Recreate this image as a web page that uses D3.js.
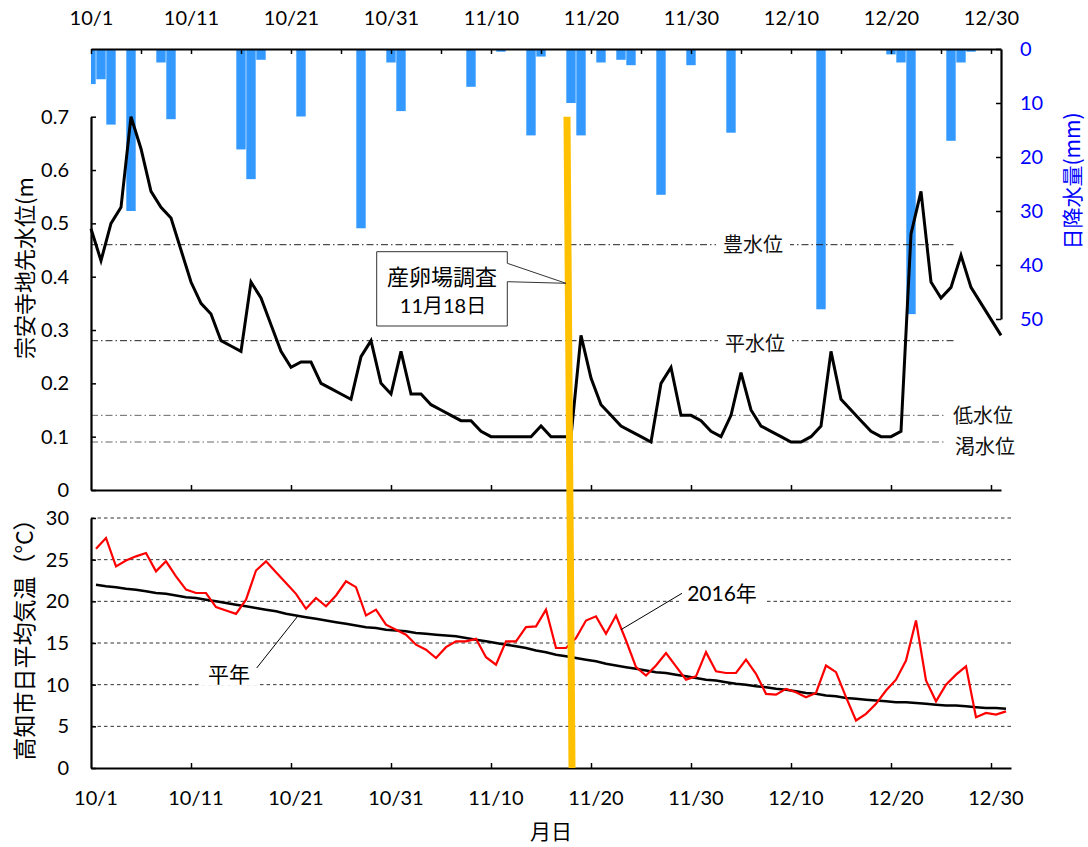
<!DOCTYPE html>
<html><head><meta charset="utf-8">
<script src="https://cdn.jsdelivr.net/npm/d3@7"></script>
<style>body{margin:0;background:#fff}svg{display:block}</style>
</head><body>
<svg id="c" width="1088" height="847"></svg>
<script>
// ---------------- data ----------------
const dayLabels = ["10/1","10/11","10/21","10/31","11/10","11/20","11/30","12/10","12/20","12/30"];

// 宗安寺地先水位 (m), daily 10/1 - 12/31
const waterLevel = [0.49,0.43,0.50,0.53,0.70,0.64,0.56,0.53,0.51,0.45,
0.39,0.35,0.33,0.28,0.27,0.26,0.39,0.36,0.31,0.26,
0.23,0.24,0.24,0.20,0.19,0.18,0.17,0.25,0.28,0.20,
0.18,0.26,0.18,0.18,0.16,0.15,0.14,0.13,0.13,0.11,
0.10,0.10,0.10,0.10,0.10,0.12,0.10,0.10,0.10,0.29,
0.21,0.16,0.14,0.12,0.11,0.10,0.09,0.20,0.23,0.14,
0.14,0.13,0.11,0.10,0.14,0.22,0.15,0.12,0.11,0.10,
0.09,0.09,0.10,0.12,0.26,0.17,0.15,0.13,0.11,0.10,
0.10,0.11,0.48,0.56,0.39,0.36,0.38,0.44,0.38,0.35,
0.32,0.29];

// 日降水量 (mm), daily 10/1 - 12/31
const rainfall = [6.5,5.6,14.0,0,30.0,0,0,2.5,13.0,0,
0,0,0,0,0,18.6,24.1,2.0,0,0,
0,12.5,0,0,0,0,0,33.2,0,0,
2.5,11.5,0,0,0,0,0,0,7.0,0,
0,0.5,0,0,16.0,1.4,0,0,10.0,16.0,
0,2.5,0,2.0,3.0,0,0,27.0,0,0,
3.0,0,0,0,15.5,0,0,0,0,0,
0,0,0,48.2,0,0,0,0,0,0,
1.0,2.5,49.1,0,0,0,17.0,2.5,0.5,0,
0,0];

// 高知市日平均気温 (°C) 2016年
const temp2016 = [26.3,27.6,24.2,24.9,25.4,25.8,23.6,24.8,23.0,21.4,
21.0,21.0,19.3,18.9,18.5,20.2,23.7,24.8,23.5,22.2,
20.9,19.1,20.4,19.4,20.7,22.4,21.7,18.3,19.0,17.2,
16.6,16.0,14.8,14.2,13.2,14.5,15.2,15.2,15.5,13.3,
12.4,15.2,15.2,16.9,17.0,19.0,14.4,14.4,15.6,17.7,
18.2,16.1,18.3,15.3,12.1,11.1,12.3,13.8,12.2,10.6,
11.0,13.9,11.6,11.4,11.4,13.0,11.3,8.9,8.8,9.5,
9.1,8.5,9.0,12.3,11.5,8.5,5.7,6.5,7.7,9.3,
10.6,12.9,17.7,10.5,8.0,10.0,11.2,12.2,6.1,6.6,
6.4,6.8];

// 平年
const tempNormal = [22.0,21.8,21.7,21.5,21.4,21.2,21.0,20.9,20.7,20.5,
20.4,20.2,20.0,19.8,19.6,19.4,19.2,19.0,18.8,18.5,
18.3,18.1,17.9,17.7,17.5,17.3,17.1,16.9,16.8,16.6,
16.5,16.4,16.2,16.1,16.0,15.9,15.8,15.6,15.4,15.2,
15.0,14.8,14.6,14.4,14.1,13.9,13.6,13.4,13.2,13.0,
12.8,12.5,12.3,12.1,11.9,11.7,11.5,11.4,11.2,11.0,
10.8,10.6,10.5,10.3,10.1,10.0,9.8,9.7,9.5,9.4,
9.2,9.0,8.9,8.7,8.6,8.4,8.3,8.2,8.1,8.0,
7.9,7.9,7.8,7.7,7.6,7.5,7.5,7.4,7.3,7.2,
7.2,7.1];

const refNames = ["豊水位","平水位","低水位","渇水位"];
const refValues = [0.46, 0.28, 0.14, 0.09];
const waterTicks = [0,0.1,0.2,0.3,0.4,0.5,0.6,0.7];
const rainTicks = [0,10,20,30,40,50];
const tempTicks = [0,5,10,15,20,25,30];
const surveyDay = 48; // 11月18日

// ---------------- layout ----------------
const NUM = "Lato, 'Noto Sans CJK JP', sans-serif";
const JP = "'Noto Sans CJK JP', sans-serif";
const svg = d3.select("#c");
svg.append("rect").attr("width",1088).attr("height",847).attr("fill","#fff");

const nDays = waterLevel.length; // 92
const xTop = d3.scaleLinear().domain([0, nDays-1]).range([91, 1001]);
const yWater = d3.scaleLinear().domain([0, 0.7]).range([490, 116.7]);
const yRain = d3.scaleLinear().domain([0, 50]).range([49, 319]);
const xBot = d3.scaleLinear().domain([0, nDays]).range([91, 1011]);
const yTemp = d3.scaleLinear().domain([0, 30]).range([768, 518]);

svg.append("clipPath").attr("id","topclip").append("rect")
  .attr("x",91).attr("y",40).attr("width",910).attr("height",460);

// ---- rainfall bars ----
svg.append("g").attr("clip-path","url(#topclip)")
  .selectAll("rect").data(rainfall.map((v,i)=>({v,i})).filter(d=>d.v>0))
  .join("rect")
  .attr("x", d=>xTop(d.i-0.5)+0.3)
  .attr("width", d=>xTop(d.i+0.5)-xTop(d.i-0.5)-0.6)
  .attr("y", yRain(0))
  .attr("height", d=>yRain(d.v)-yRain(0))
  .attr("fill","#3399ff");

// ---- reference level lines ----
const refG = svg.append("g");
const refLabelPos = [66.2, 66.4, 89.2, 89.4];
const refLineEnd = [86.3, 86.3, 85.4, 85.4];
refValues.forEach((v,k)=>{
  refG.append("line")
    .attr("x1", xTop(0)).attr("x2", xTop(refLineEnd[k]))
    .attr("y1", yWater(v)).attr("y2", yWater(v))
    .attr("stroke", k<2 ? "#222" : "#666").attr("stroke-width",1)
    .attr("stroke-dasharray","7,3,1.5,3");
});
refValues.forEach((v,k)=>{
  const yy = k===0 ? yWater(v)-1 : (k===1 ? yWater(v)+1.5 : (k===2 ? yWater(v)-0.5 : yWater(v)+3.5));
  const t = refG.append("text")
    .attr("x", xTop(refLabelPos[k])).attr("y", yy)
    .attr("text-anchor","middle").attr("dominant-baseline","central")
    .attr("font-family",JP).attr("font-size",20).attr("fill","#111")
    .text(refNames[k]);
  if (k<2) {
    const b = t.node().getBBox();
    refG.insert("rect","text").attr("x",b.x-7).attr("y",b.y+2).attr("width",b.width+14).attr("height",b.height-4).attr("fill","#fff");
  }
});

// ---- water level line ----
svg.append("path").datum(waterLevel)
  .attr("fill","none").attr("stroke","#000").attr("stroke-width",3).attr("stroke-linejoin","miter")
  .attr("d", d3.line().x((d,i)=>xTop(i)).y(d=>yWater(d)));

// ---- top panel axes ----
svg.append("g").attr("transform",`translate(0,${yRain(0)})`)
  .call(d3.axisTop(xTop).tickValues(d3.range(0, nDays-1, 5)).tickSizeInner(-5).tickSizeOuter(0).tickPadding(24)
    .tickFormat(d => d%10===0 ? dayLabels[d/10] : ""));
svg.append("g").attr("transform",`translate(0,${yWater(0)})`)
  .call(d3.axisBottom(xTop).tickValues(d3.range(10, nDays-1, 10)).tickSizeInner(-5).tickSizeOuter(0).tickFormat(""));
svg.append("g").attr("transform",`translate(${xTop(0)},0)`)
  .call(d3.axisLeft(yWater).tickValues(waterTicks).tickSizeInner(-5).tickSizeOuter(0).tickPadding(22)
    .tickFormat(d => d===0 ? "0" : d.toFixed(1)));
const rightAx = svg.append("g").attr("transform",`translate(${xTop(nDays-1)},0)`)
  .call(d3.axisRight(yRain).tickValues(rainTicks).tickSizeInner(-5).tickSizeOuter(0).tickPadding(19));

// ---- bottom panel grid ----
const grid = svg.append("g");
tempTicks.filter(t=>t>0).forEach(t=>{
  grid.append("line").attr("x1",xBot(0)).attr("x2",xBot(nDays))
    .attr("y1",yTemp(t)).attr("y2",yTemp(t))
    .attr("stroke","#333").attr("stroke-width",1).attr("stroke-dasharray","3.5,3");
});

// ---- temperature lines ----
svg.append("path").datum(tempNormal)
  .attr("fill","none").attr("stroke","#000").attr("stroke-width",2.5)
  .attr("d", d3.line().x((d,i)=>xBot(i+0.5)).y(d=>yTemp(d)));
svg.append("path").datum(temp2016)
  .attr("fill","none").attr("stroke","#ff0000").attr("stroke-width",2.2)
  .attr("d", d3.line().x((d,i)=>xBot(i+0.5)).y(d=>yTemp(d)));

// ---- bottom panel axes ----
svg.append("g").attr("transform",`translate(0,${yTemp(0)})`)
  .call(d3.axisBottom(xBot).tickValues(d3.range(10, nDays, 10)).tickSizeInner(-5).tickSizeOuter(0).tickFormat(""));
svg.append("g").attr("transform",`translate(${xBot(0)},0)`)
  .call(d3.axisLeft(yTemp).tickValues(tempTicks).tickSizeInner(-5).tickSizeOuter(0).tickPadding(22));
svg.append("g").selectAll("text").data(dayLabels).join("text")
  .attr("x",(d,k)=>xBot(k*10+0.5)).attr("y",805)
  .attr("text-anchor","middle").attr("font-family",NUM).attr("font-size",20).attr("fill","#000")
  .text(d=>d);

// style all axes
svg.selectAll(".domain").attr("stroke","#000").attr("stroke-width",2.2);
svg.selectAll(".tick line").attr("stroke","#000").attr("stroke-width",1.5);
svg.selectAll(".tick text").attr("font-family",NUM).attr("font-size",20).attr("fill","#000");
rightAx.selectAll(".tick text").attr("fill","#0000ff");

// ---- series labels with leaders ----
function sample(arr, i){ const a=Math.floor(i), f=i-a; return arr[a]*(1-f)+arr[a+1]*f; }
function seriesLabel(txt, tx, ty, lx1, ly1, lx2, ly2) {
  const g = svg.append("g");
  const t = g.append("text").attr("x",tx).attr("y",ty).attr("text-anchor","middle").attr("dominant-baseline","central")
    .attr("font-family",NUM).attr("font-size",21).attr("fill","#000").text(txt);
  const b = t.node().getBBox();
  g.insert("rect","text").attr("x",b.x-8).attr("y",b.y).attr("width",b.width+16).attr("height",b.height).attr("fill","#fff");
  g.append("line").attr("x1",lx1).attr("y1",ly1).attr("x2",lx2).attr("y2",ly2).attr("stroke","#000").attr("stroke-width",1);
}
seriesLabel("平年", 229, 673, 256.7, 668, xBot(20.7), yTemp(sample(tempNormal,20.2)));
seriesLabel("2016年", 722, 592, 682, 593.3, xBot(53.0), yTemp(16.6));

// ---- survey line ----
svg.append("line")
  .attr("x1", xTop(surveyDay-0.4)).attr("y1", yWater(0.7))
  .attr("x2", xTop(surveyDay+0.1)).attr("y2", yTemp(0))
  .attr("stroke","#ffc000").attr("stroke-width",7);

// ---- callout ----
const tipX = xTop(surveyDay) - 5, tipY = yWater(0.3876);
const bx0 = 376.7, bx1 = 507.3, by0 = 251.7, by1 = 326;
svg.append("path")
  .attr("d", `M${bx0},${by0} L${bx1},${by0} L${bx1},${263.3} L${tipX},${tipY} L${bx1},${281.7} L${bx1},${by1} L${bx0},${by1} Z`)
  .attr("fill","#fff").attr("stroke","#333").attr("stroke-width",1);
svg.append("text").attr("x",(bx0+bx1)/2).attr("y",275).attr("text-anchor","middle").attr("dominant-baseline","central")
  .attr("font-family",JP).attr("font-size",22).attr("fill","#000").text("産卵場調査");
svg.append("text").attr("x",(bx0+bx1)/2+1).attr("y",305).attr("text-anchor","middle").attr("dominant-baseline","central")
  .attr("font-family",NUM).attr("font-size",20).attr("fill","#000").text("11月18日");

// ---- axis titles ----
svg.append("text").attr("transform","translate(23,268) rotate(-90)")
  .attr("text-anchor","middle").attr("dominant-baseline","central")
  .attr("font-family",JP).attr("font-size",22).attr("fill","#000").text("宗安寺地先水位(m");
svg.append("text").attr("transform","translate(23,634) rotate(-90)")
  .attr("text-anchor","middle").attr("dominant-baseline","central")
  .attr("font-family",JP).attr("font-size",23).attr("fill","#000").text("高知市日平均気温（°C）");
svg.append("text").attr("transform","translate(1071,181) rotate(-90)")
  .attr("text-anchor","middle").attr("dominant-baseline","central")
  .attr("font-family",JP).attr("font-size",21).attr("fill","#0000ff").text("日降水量(mm)");
svg.append("text").attr("x",551).attr("y",830).attr("text-anchor","middle").attr("dominant-baseline","central")
  .attr("font-family",JP).attr("font-size",21).attr("fill","#000").text("月日");
</script>
</body></html>
